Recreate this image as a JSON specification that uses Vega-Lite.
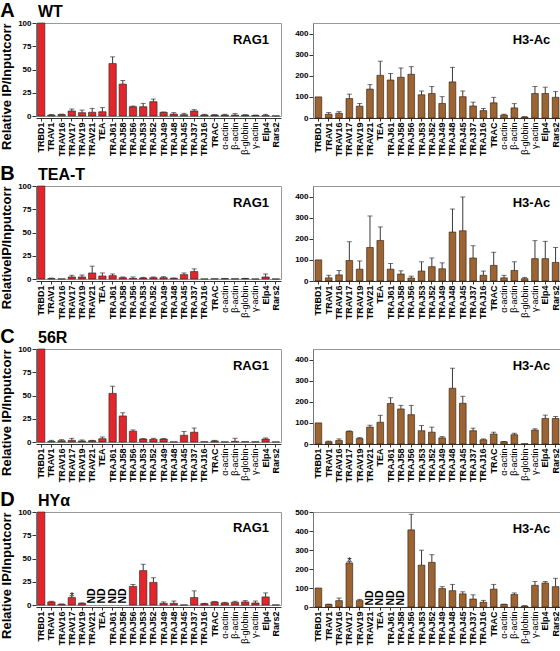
{
"$schema": "https://vega.github.io/schema/vega-lite/v6.json",
"padding": {"left": 0, "top": 0, "right": 0, "bottom": 0},
"spacing": 6,
"config": {
  "font": "Liberation Sans",
  "view": {"stroke": "#999", "strokeWidth": 1},
  "axis": {"grid": false, "labelColor": "black", "titleColor": "black", "labelFont": "Liberation Sans", "titleFont": "Liberation Sans", "labelOverlap": false},
  "axisY": {"tickCount": 10},
  "title": {"font": "Liberation Sans", "color": "black", "baseline": "alphabetic"}
},
"datasets": {
  "AR": [{"g":"TRBD1","v":100,"e":100},{"g":"TRAV1","v":1,"e":1.5},{"g":"TRAV16","v":1.5,"e":2},{"g":"TRAV17","v":5.4,"e":7.5},{"g":"TRAV19","v":3.6,"e":6.4},{"g":"TRAV21","v":4,"e":8.2},{"g":"TEA","v":4.6,"e":9},{"g":"TRAJ61","v":56.4,"e":63.6},{"g":"TRAJ58","v":34.3,"e":38.2},{"g":"TRAJ56","v":10,"e":10.7},{"g":"TRAJ53","v":10,"e":13.6},{"g":"TRAJ52","v":15.4,"e":18.2},{"g":"TRAJ49","v":3.9,"e":4.3},{"g":"TRAJ48","v":2.1,"e":3.6},{"g":"TRAJ45","v":1.4,"e":2.9},{"g":"TRAJ37","v":5.4,"e":6.8},{"g":"TRAJ16","v":1.1,"e":1.8},{"g":"TRAC","v":1.1,"e":1.4},{"g":"α-actin","v":1,"e":1.8},{"g":"β-actin","v":1,"e":2.5},{"g":"β-globin","v":1,"e":1.3},{"g":"γ-actin","v":0.7,"e":0.9},{"g":"Elp4","v":0.5,"e":1.8},{"g":"Rars2","v":0.2,"e":0.2}],
  "AH": [{"g":"TRBD1","v":100,"e":100},{"g":"TRAV1","v":18,"e":25.7},{"g":"TRAV16","v":22.6,"e":30},{"g":"TRAV17","v":92,"e":113},{"g":"TRAV19","v":56,"e":69},{"g":"TRAV21","v":137,"e":158},{"g":"TEA","v":202,"e":269},{"g":"TRAJ61","v":180,"e":211},{"g":"TRAJ58","v":193,"e":237},{"g":"TRAJ56","v":207,"e":243},{"g":"TRAJ53","v":110,"e":128},{"g":"TRAJ52","v":116,"e":149},{"g":"TRAJ49","v":69,"e":101},{"g":"TRAJ48","v":171,"e":240},{"g":"TRAJ45","v":101,"e":128},{"g":"TRAJ37","v":57,"e":75},{"g":"TRAJ16","v":35,"e":45},{"g":"TRAC","v":72,"e":98},{"g":"α-actin","v":14,"e":18},{"g":"β-actin","v":48,"e":68},{"g":"β-globin","v":4.5,"e":6},{"g":"γ-actin","v":116,"e":149},{"g":"Elp4","v":116,"e":146},{"g":"Rars2","v":98,"e":125}],
  "BR": [{"g":"TRBD1","v":100,"e":100},{"g":"TRAV1","v":0.4,"e":1},{"g":"TRAV16","v":0.2,"e":0.2},{"g":"TRAV17","v":2.2,"e":4},{"g":"TRAV19","v":2.2,"e":4.3},{"g":"TRAV21","v":6.5,"e":13.8},{"g":"TEA","v":3.3,"e":6.5},{"g":"TRAJ61","v":3.6,"e":5.4},{"g":"TRAJ58","v":1.4,"e":2.2},{"g":"TRAJ56","v":0.7,"e":2.2},{"g":"TRAJ53","v":1.1,"e":1.8},{"g":"TRAJ52","v":1.4,"e":2.2},{"g":"TRAJ49","v":1.4,"e":2.5},{"g":"TRAJ48","v":0.7,"e":1.1},{"g":"TRAJ45","v":4.7,"e":6.5},{"g":"TRAJ37","v":8,"e":10.9},{"g":"TRAJ16","v":0.1,"e":0.1},{"g":"TRAC","v":0.3,"e":0.3},{"g":"α-actin","v":0.4,"e":0.6},{"g":"β-actin","v":0.3,"e":0.3},{"g":"β-globin","v":0.5,"e":0.7},{"g":"γ-actin","v":0.1,"e":0.1},{"g":"Elp4","v":2.2,"e":5.4},{"g":"Rars2","v":0.1,"e":0.1}],
  "BH": [{"g":"TRBD1","v":100,"e":100},{"g":"TRAV1","v":15,"e":27},{"g":"TRAV16","v":29,"e":50},{"g":"TRAV17","v":97,"e":186},{"g":"TRAV19","v":56,"e":95},{"g":"TRAV21","v":159,"e":308},{"g":"TEA","v":192,"e":256},{"g":"TRAJ61","v":56,"e":83},{"g":"TRAJ58","v":33,"e":48},{"g":"TRAJ56","v":14,"e":23},{"g":"TRAJ53","v":47,"e":91},{"g":"TRAJ52","v":68,"e":109},{"g":"TRAJ49","v":58,"e":86},{"g":"TRAJ48","v":232,"e":341},{"g":"TRAJ45","v":238,"e":398},{"g":"TRAJ37","v":109,"e":167},{"g":"TRAJ16","v":27,"e":47},{"g":"TRAC","v":74,"e":136},{"g":"α-actin","v":15,"e":27},{"g":"β-actin","v":50,"e":91},{"g":"β-globin","v":11,"e":17},{"g":"γ-actin","v":106,"e":191},{"g":"Elp4","v":106,"e":188},{"g":"Rars2","v":88,"e":159}],
  "CR": [{"g":"TRBD1","v":100,"e":100},{"g":"TRAV1","v":0.7,"e":1.8},{"g":"TRAV16","v":1.4,"e":2.5},{"g":"TRAV17","v":1.8,"e":4},{"g":"TRAV19","v":1.1,"e":2.2},{"g":"TRAV21","v":1.4,"e":1.8},{"g":"TEA","v":3.6,"e":5.4},{"g":"TRAJ61","v":52.3,"e":60},{"g":"TRAJ58","v":28,"e":31.4},{"g":"TRAJ56","v":11.6,"e":13},{"g":"TRAJ53","v":3.2,"e":3.6},{"g":"TRAJ52","v":2.9,"e":4},{"g":"TRAJ49","v":3.2,"e":3.6},{"g":"TRAJ48","v":0.2,"e":0.2},{"g":"TRAJ45","v":7.2,"e":11.2},{"g":"TRAJ37","v":10.5,"e":15},{"g":"TRAJ16","v":0.3,"e":0.3},{"g":"TRAC","v":1.1,"e":1.8},{"g":"α-actin","v":0.2,"e":0.2},{"g":"β-actin","v":0.7,"e":4},{"g":"β-globin","v":0.4,"e":0.4},{"g":"γ-actin","v":0.3,"e":0.3},{"g":"Elp4","v":3.2,"e":4.3},{"g":"Rars2","v":0.1,"e":0.1}],
  "CH": [{"g":"TRBD1","v":100,"e":100},{"g":"TRAV1","v":10.6,"e":13.6},{"g":"TRAV16","v":16.6,"e":24},{"g":"TRAV17","v":59,"e":62},{"g":"TRAV19","v":25.7,"e":30},{"g":"TRAV21","v":80,"e":89},{"g":"TEA","v":103,"e":136},{"g":"TRAJ61","v":192,"e":219},{"g":"TRAJ58","v":166,"e":183},{"g":"TRAJ56","v":139,"e":183},{"g":"TRAJ53","v":63,"e":88},{"g":"TRAJ52","v":56,"e":80},{"g":"TRAJ49","v":29,"e":35},{"g":"TRAJ48","v":264,"e":359},{"g":"TRAJ45","v":193,"e":226},{"g":"TRAJ37","v":63,"e":75},{"g":"TRAJ16","v":20,"e":24},{"g":"TRAC","v":47,"e":56},{"g":"α-actin","v":10.6,"e":12},{"g":"β-actin","v":44,"e":51},{"g":"β-globin","v":1.5,"e":1.5},{"g":"γ-actin","v":66,"e":72},{"g":"Elp4","v":121,"e":137},{"g":"Rars2","v":121,"e":130}],
  "DR": [{"g":"TRBD1","v":100,"e":100},{"g":"TRAV1","v":3.3,"e":4},{"g":"TRAV16","v":0.7,"e":1.1},{"g":"TRAV17","v":8,"e":9.8,"s":"*"},{"g":"TRAV19","v":1.8,"e":2.2},{"g":"TRAV21","nd":"ND"},{"g":"TEA","nd":"ND"},{"g":"TRAJ61","nd":"ND"},{"g":"TRAJ58","nd":"ND"},{"g":"TRAJ56","v":20,"e":22},{"g":"TRAJ53","v":37,"e":43.8},{"g":"TRAJ52","v":24.3,"e":29.3},{"g":"TRAJ49","v":1.8,"e":3.3},{"g":"TRAJ48","v":1.8,"e":4.3},{"g":"TRAJ45","v":0.1,"e":0.1},{"g":"TRAJ37","v":8,"e":15.2},{"g":"TRAJ16","v":1.4,"e":1.8},{"g":"TRAC","v":3.3,"e":3.6},{"g":"α-actin","v":2.2,"e":2.9},{"g":"β-actin","v":2.9,"e":4},{"g":"β-globin","v":3.3,"e":4.7},{"g":"γ-actin","v":2.2,"e":4.3},{"g":"Elp4","v":8.7,"e":13},{"g":"Rars2","v":0.1,"e":0.1}],
  "DH": [{"g":"TRBD1","v":100,"e":100},{"g":"TRAV1","v":13.4,"e":15},{"g":"TRAV16","v":33.6,"e":47},{"g":"TRAV17","v":232,"e":240,"s":"*"},{"g":"TRAV19","v":33.6,"e":40},{"g":"TRAV21","nd":"ND"},{"g":"TEA","nd":"ND"},{"g":"TRAJ61","nd":"ND"},{"g":"TRAJ58","nd":"ND"},{"g":"TRAJ56","v":406,"e":488},{"g":"TRAJ53","v":220,"e":299},{"g":"TRAJ52","v":235,"e":275},{"g":"TRAJ49","v":97,"e":107},{"g":"TRAJ48","v":86,"e":119},{"g":"TRAJ45","v":69,"e":80},{"g":"TRAJ37","v":42,"e":64},{"g":"TRAJ16","v":25,"e":35},{"g":"TRAC","v":94,"e":119},{"g":"α-actin","v":13.4,"e":15},{"g":"β-actin","v":65.5,"e":74},{"g":"β-globin","v":5,"e":6.7},{"g":"γ-actin","v":114,"e":134},{"g":"Elp4","v":126,"e":134},{"g":"Rars2","v":107,"e":151}]
},
"vconcat": [
{"title": {"text": "A", "anchor": "start", "frame": "bounds", "fontSize": 20, "fontWeight": "bold", "offset": -17},
 "spacing": 12,
 "hconcat": [
  {"width": 245, "height": 93,
   "title": {"text": "WT", "anchor": "start", "frame": "group", "fontSize": 16, "fontWeight": "bold", "offset": -1, "dx": 2},
   "data": {"name": "AR"},
   "encoding": {"x": {"field": "g", "type": "nominal", "scale": {"domain": ["TRBD1","TRAV1","TRAV16","TRAV17","TRAV19","TRAV21","TEA","TRAJ61","TRAJ58","TRAJ56","TRAJ53","TRAJ52","TRAJ49","TRAJ48","TRAJ45","TRAJ37","TRAJ16","TRAC","α-actin","β-actin","β-globin","γ-actin","Elp4","Rars2"], "paddingInner": 0.28, "paddingOuter": 0.15},
     "axis": {"title": null, "labelAngle": -90, "labelFontSize": 9, "labelFontWeight": {"condition": {"test": "indexof(datum.value,'actin')>=0 || indexof(datum.value,'globin')>=0", "value": "normal"}, "value": "bold"}, "tickSize": 3, "tickColor": "#333", "domainColor": "#333", "labelPadding": 1, "offset": 2}}},
   "layer": [
    {"mark": {"type": "bar", "color": "#e3262b", "stroke": "#222", "strokeWidth": 0.6},
     "encoding": {"y": {"field": "v", "type": "quantitative", "scale": {"domain": [0, 100], "nice": false},
       "axis": {"values": [0,25,50,75,100], "tickCount": 10, "labelOverlap": false, "title": "Relative IP/Inputcorr", "titleAnchor": "end", "titleFontSize": 13, "titleFontWeight": "bold", "titlePadding": 4, "labelFontSize": 8, "labelFontWeight": "bold", "labelPadding": 1, "tickSize": 4, "tickColor": "#333", "domainColor": "#777"}}}},
    {"transform": [{"filter": "datum.e > datum.v"}], "mark": {"type": "rule", "color": "#222", "strokeWidth": 0.9},
     "encoding": {"y": {"field": "v", "type": "quantitative"}, "y2": {"field": "e"}}},
    {"transform": [{"filter": "datum.e > datum.v"}], "mark": {"type": "tick", "color": "#222", "thickness": 0.9, "size": 5},
     "encoding": {"y": {"field": "e", "type": "quantitative"}}},
    {"data": {"values": [{"lab": "RAG1"}]}, "mark": {"type": "text", "align": "right", "baseline": "alphabetic", "fontSize": 13, "fontWeight": "bold", "dx": 3.5},
     "encoding": {"x": {"datum": "Elp4"}, "y": {"datum": 77.5}, "text": {"field": "lab"}}}
   ]},
  {"width": 248, "height": 95,
   "data": {"name": "AH"},
   "encoding": {"x": {"field": "g", "type": "nominal", "scale": {"domain": ["TRBD1","TRAV1","TRAV16","TRAV17","TRAV19","TRAV21","TEA","TRAJ61","TRAJ58","TRAJ56","TRAJ53","TRAJ52","TRAJ49","TRAJ48","TRAJ45","TRAJ37","TRAJ16","TRAC","α-actin","β-actin","β-globin","γ-actin","Elp4","Rars2"], "paddingInner": 0.35, "paddingOuter": 0.2},
     "axis": {"title": null, "labelAngle": -90, "labelFontSize": 9, "labelFontWeight": {"condition": {"test": "indexof(datum.value,'actin')>=0 || indexof(datum.value,'globin')>=0", "value": "normal"}, "value": "bold"}, "tickSize": 3, "tickColor": "#333", "domainColor": "#333", "labelPadding": 1}}},
   "layer": [
    {"mark": {"type": "bar", "color": "#9b6432", "stroke": "#2a1a0c", "strokeWidth": 0.6},
     "encoding": {"y": {"field": "v", "type": "quantitative", "scale": {"domain": [0, 450], "nice": false},
       "axis": {"values": [0,100,200,300,400], "tickCount": 10, "labelOverlap": false, "title": null, "labelFontSize": 8, "labelFontWeight": "bold", "labelPadding": 1, "tickSize": 4, "tickColor": "#333", "domainColor": "#777"}}}},
    {"transform": [{"filter": "datum.e > datum.v"}], "mark": {"type": "rule", "color": "#222", "strokeWidth": 0.9},
     "encoding": {"y": {"field": "v", "type": "quantitative"}, "y2": {"field": "e"}}},
    {"transform": [{"filter": "datum.e > datum.v"}], "mark": {"type": "tick", "color": "#222", "thickness": 0.9, "size": 5},
     "encoding": {"y": {"field": "e", "type": "quantitative"}}},
    {"data": {"values": [{"lab": "H3-Ac"}]}, "mark": {"type": "text", "align": "right", "baseline": "alphabetic", "fontSize": 13, "fontWeight": "bold", "dx": 5},
     "encoding": {"x": {"datum": "Elp4"}, "y": {"datum": 352}, "text": {"field": "lab"}}}
   ]}
 ]},
{"title": {"text": "B", "anchor": "start", "frame": "bounds", "fontSize": 20, "fontWeight": "bold", "offset": -17},
 "spacing": 12,
 "hconcat": [
  {"width": 245, "height": 93,
   "title": {"text": "TEA-T", "anchor": "start", "frame": "group", "fontSize": 16, "fontWeight": "bold", "offset": -1, "dx": 2},
   "data": {"name": "BR"},
   "encoding": {"x": {"field": "g", "type": "nominal", "scale": {"domain": ["TRBD1","TRAV1","TRAV16","TRAV17","TRAV19","TRAV21","TEA","TRAJ61","TRAJ58","TRAJ56","TRAJ53","TRAJ52","TRAJ49","TRAJ48","TRAJ45","TRAJ37","TRAJ16","TRAC","α-actin","β-actin","β-globin","γ-actin","Elp4","Rars2"], "paddingInner": 0.28, "paddingOuter": 0.15},
     "axis": {"title": null, "labelAngle": -90, "labelFontSize": 9, "labelFontWeight": {"condition": {"test": "indexof(datum.value,'actin')>=0 || indexof(datum.value,'globin')>=0", "value": "normal"}, "value": "bold"}, "tickSize": 3, "tickColor": "#333", "domainColor": "#333", "labelPadding": 1, "offset": 2}}},
   "layer": [
    {"mark": {"type": "bar", "color": "#e3262b", "stroke": "#222", "strokeWidth": 0.6},
     "encoding": {"y": {"field": "v", "type": "quantitative", "scale": {"domain": [0, 100], "nice": false},
       "axis": {"values": [0,25,50,75,100], "tickCount": 10, "labelOverlap": false, "title": "RelativeIP/Inputcorr", "titleAnchor": "end", "titleFontSize": 13, "titleFontWeight": "bold", "titlePadding": 4, "labelFontSize": 8, "labelFontWeight": "bold", "labelPadding": 1, "tickSize": 4, "tickColor": "#333", "domainColor": "#777"}}}},
    {"transform": [{"filter": "datum.e > datum.v"}], "mark": {"type": "rule", "color": "#222", "strokeWidth": 0.9},
     "encoding": {"y": {"field": "v", "type": "quantitative"}, "y2": {"field": "e"}}},
    {"transform": [{"filter": "datum.e > datum.v"}], "mark": {"type": "tick", "color": "#222", "thickness": 0.9, "size": 5},
     "encoding": {"y": {"field": "e", "type": "quantitative"}}},
    {"data": {"values": [{"lab": "RAG1"}]}, "mark": {"type": "text", "align": "right", "baseline": "alphabetic", "fontSize": 13, "fontWeight": "bold", "dx": 3.5},
     "encoding": {"x": {"datum": "Elp4"}, "y": {"datum": 77}, "text": {"field": "lab"}}}
   ]},
  {"width": 248, "height": 95,
   "data": {"name": "BH"},
   "encoding": {"x": {"field": "g", "type": "nominal", "scale": {"domain": ["TRBD1","TRAV1","TRAV16","TRAV17","TRAV19","TRAV21","TEA","TRAJ61","TRAJ58","TRAJ56","TRAJ53","TRAJ52","TRAJ49","TRAJ48","TRAJ45","TRAJ37","TRAJ16","TRAC","α-actin","β-actin","β-globin","γ-actin","Elp4","Rars2"], "paddingInner": 0.35, "paddingOuter": 0.2},
     "axis": {"title": null, "labelAngle": -90, "labelFontSize": 9, "labelFontWeight": {"condition": {"test": "indexof(datum.value,'actin')>=0 || indexof(datum.value,'globin')>=0", "value": "normal"}, "value": "bold"}, "tickSize": 3, "tickColor": "#333", "domainColor": "#333", "labelPadding": 1}}},
   "layer": [
    {"mark": {"type": "bar", "color": "#9b6432", "stroke": "#2a1a0c", "strokeWidth": 0.6},
     "encoding": {"y": {"field": "v", "type": "quantitative", "scale": {"domain": [0, 450], "nice": false},
       "axis": {"values": [0,100,200,300,400], "tickCount": 10, "labelOverlap": false, "title": null, "labelFontSize": 8, "labelFontWeight": "bold", "labelPadding": 1, "tickSize": 4, "tickColor": "#333", "domainColor": "#777"}}}},
    {"transform": [{"filter": "datum.e > datum.v"}], "mark": {"type": "rule", "color": "#222", "strokeWidth": 0.9},
     "encoding": {"y": {"field": "v", "type": "quantitative"}, "y2": {"field": "e"}}},
    {"transform": [{"filter": "datum.e > datum.v"}], "mark": {"type": "tick", "color": "#222", "thickness": 0.9, "size": 5},
     "encoding": {"y": {"field": "e", "type": "quantitative"}}},
    {"data": {"values": [{"lab": "H3-Ac"}]}, "mark": {"type": "text", "align": "right", "baseline": "alphabetic", "fontSize": 13, "fontWeight": "bold", "dx": 5},
     "encoding": {"x": {"datum": "Elp4"}, "y": {"datum": 349}, "text": {"field": "lab"}}}
   ]}
 ]},
{"title": {"text": "C", "anchor": "start", "frame": "bounds", "fontSize": 20, "fontWeight": "bold", "offset": -17},
 "spacing": 12,
 "hconcat": [
  {"width": 245, "height": 93,
   "title": {"text": "56R", "anchor": "start", "frame": "group", "fontSize": 16, "fontWeight": "bold", "offset": -1, "dx": 2},
   "data": {"name": "CR"},
   "encoding": {"x": {"field": "g", "type": "nominal", "scale": {"domain": ["TRBD1","TRAV1","TRAV16","TRAV17","TRAV19","TRAV21","TEA","TRAJ61","TRAJ58","TRAJ56","TRAJ53","TRAJ52","TRAJ49","TRAJ48","TRAJ45","TRAJ37","TRAJ16","TRAC","α-actin","β-actin","β-globin","γ-actin","Elp4","Rars2"], "paddingInner": 0.28, "paddingOuter": 0.15},
     "axis": {"title": null, "labelAngle": -90, "labelFontSize": 9, "labelFontWeight": {"condition": {"test": "indexof(datum.value,'actin')>=0 || indexof(datum.value,'globin')>=0", "value": "normal"}, "value": "bold"}, "tickSize": 3, "tickColor": "#333", "domainColor": "#333", "labelPadding": 1, "offset": 2}}},
   "layer": [
    {"mark": {"type": "bar", "color": "#e3262b", "stroke": "#222", "strokeWidth": 0.6},
     "encoding": {"y": {"field": "v", "type": "quantitative", "scale": {"domain": [0, 100], "nice": false},
       "axis": {"values": [0,25,50,75,100], "tickCount": 10, "labelOverlap": false, "title": "Relative IP/Inputcorr", "titleAnchor": "end", "titleFontSize": 13, "titleFontWeight": "bold", "titlePadding": 4, "labelFontSize": 8, "labelFontWeight": "bold", "labelPadding": 1, "tickSize": 4, "tickColor": "#333", "domainColor": "#777"}}}},
    {"transform": [{"filter": "datum.e > datum.v"}], "mark": {"type": "rule", "color": "#222", "strokeWidth": 0.9},
     "encoding": {"y": {"field": "v", "type": "quantitative"}, "y2": {"field": "e"}}},
    {"transform": [{"filter": "datum.e > datum.v"}], "mark": {"type": "tick", "color": "#222", "thickness": 0.9, "size": 5},
     "encoding": {"y": {"field": "e", "type": "quantitative"}}},
    {"data": {"values": [{"lab": "RAG1"}]}, "mark": {"type": "text", "align": "right", "baseline": "alphabetic", "fontSize": 13, "fontWeight": "bold", "dx": 3.5},
     "encoding": {"x": {"datum": "Elp4"}, "y": {"datum": 77}, "text": {"field": "lab"}}}
   ]},
  {"width": 248, "height": 95,
   "data": {"name": "CH"},
   "encoding": {"x": {"field": "g", "type": "nominal", "scale": {"domain": ["TRBD1","TRAV1","TRAV16","TRAV17","TRAV19","TRAV21","TEA","TRAJ61","TRAJ58","TRAJ56","TRAJ53","TRAJ52","TRAJ49","TRAJ48","TRAJ45","TRAJ37","TRAJ16","TRAC","α-actin","β-actin","β-globin","γ-actin","Elp4","Rars2"], "paddingInner": 0.35, "paddingOuter": 0.2},
     "axis": {"title": null, "labelAngle": -90, "labelFontSize": 9, "labelFontWeight": {"condition": {"test": "indexof(datum.value,'actin')>=0 || indexof(datum.value,'globin')>=0", "value": "normal"}, "value": "bold"}, "tickSize": 3, "tickColor": "#333", "domainColor": "#333", "labelPadding": 1}}},
   "layer": [
    {"mark": {"type": "bar", "color": "#9b6432", "stroke": "#2a1a0c", "strokeWidth": 0.6},
     "encoding": {"y": {"field": "v", "type": "quantitative", "scale": {"domain": [0, 450], "nice": false},
       "axis": {"values": [0,100,200,300,400], "tickCount": 10, "labelOverlap": false, "title": null, "labelFontSize": 8, "labelFontWeight": "bold", "labelPadding": 1, "tickSize": 4, "tickColor": "#333", "domainColor": "#777"}}}},
    {"transform": [{"filter": "datum.e > datum.v"}], "mark": {"type": "rule", "color": "#222", "strokeWidth": 0.9},
     "encoding": {"y": {"field": "v", "type": "quantitative"}, "y2": {"field": "e"}}},
    {"transform": [{"filter": "datum.e > datum.v"}], "mark": {"type": "tick", "color": "#222", "thickness": 0.9, "size": 5},
     "encoding": {"y": {"field": "e", "type": "quantitative"}}},
    {"data": {"values": [{"lab": "H3-Ac"}]}, "mark": {"type": "text", "align": "right", "baseline": "alphabetic", "fontSize": 13, "fontWeight": "bold", "dx": 5},
     "encoding": {"x": {"datum": "Elp4"}, "y": {"datum": 352}, "text": {"field": "lab"}}}
   ]}
 ]},
{"title": {"text": "D", "anchor": "start", "frame": "bounds", "fontSize": 20, "fontWeight": "bold", "offset": -17},
 "spacing": 12,
 "hconcat": [
  {"width": 245, "height": 93,
   "title": {"text": "HYα", "anchor": "start", "frame": "group", "fontSize": 16, "fontWeight": "bold", "offset": -1, "dx": 2},
   "data": {"name": "DR"},
   "encoding": {"x": {"field": "g", "type": "nominal", "scale": {"domain": ["TRBD1","TRAV1","TRAV16","TRAV17","TRAV19","TRAV21","TEA","TRAJ61","TRAJ58","TRAJ56","TRAJ53","TRAJ52","TRAJ49","TRAJ48","TRAJ45","TRAJ37","TRAJ16","TRAC","α-actin","β-actin","β-globin","γ-actin","Elp4","Rars2"], "paddingInner": 0.28, "paddingOuter": 0.15},
     "axis": {"title": null, "labelAngle": -90, "labelFontSize": 9, "labelFontWeight": {"condition": {"test": "indexof(datum.value,'actin')>=0 || indexof(datum.value,'globin')>=0", "value": "normal"}, "value": "bold"}, "tickSize": 3, "tickColor": "#333", "domainColor": "#333", "labelPadding": 1, "offset": 2}}},
   "layer": [
    {"mark": {"type": "bar", "color": "#e3262b", "stroke": "#222", "strokeWidth": 0.6},
     "encoding": {"y": {"field": "v", "type": "quantitative", "scale": {"domain": [0, 100], "nice": false},
       "axis": {"values": [0,25,50,75,100], "tickCount": 10, "labelOverlap": false, "title": "Relative IP/Inputcorr", "titleAnchor": "end", "titleFontSize": 13, "titleFontWeight": "bold", "titlePadding": 4, "labelFontSize": 8, "labelFontWeight": "bold", "labelPadding": 1, "tickSize": 4, "tickColor": "#333", "domainColor": "#777"}}}},
    {"transform": [{"filter": "datum.e > datum.v"}], "mark": {"type": "rule", "color": "#222", "strokeWidth": 0.9},
     "encoding": {"y": {"field": "v", "type": "quantitative"}, "y2": {"field": "e"}}},
    {"transform": [{"filter": "datum.e > datum.v"}], "mark": {"type": "tick", "color": "#222", "thickness": 0.9, "size": 5},
     "encoding": {"y": {"field": "e", "type": "quantitative"}}},
    {"transform": [{"filter": "datum.nd"}], "mark": {"type": "text", "angle": 270, "align": "left", "baseline": "middle", "fontSize": 10.5, "fontWeight": "bold", "dx": 1.5},
     "encoding": {"y": {"datum": 0}, "text": {"field": "nd"}}},
    {"transform": [{"filter": "datum.s"}], "mark": {"type": "text", "align": "center", "baseline": "alphabetic", "fontSize": 11, "dy": 4},
     "encoding": {"y": {"field": "e", "type": "quantitative"}, "text": {"field": "s"}}},
    {"data": {"values": [{"lab": "RAG1"}]}, "mark": {"type": "text", "align": "right", "baseline": "alphabetic", "fontSize": 13, "fontWeight": "bold", "dx": 3.5},
     "encoding": {"x": {"datum": "Elp4"}, "y": {"datum": 78}, "text": {"field": "lab"}}}
   ]},
  {"width": 248, "height": 95,
   "data": {"name": "DH"},
   "encoding": {"x": {"field": "g", "type": "nominal", "scale": {"domain": ["TRBD1","TRAV1","TRAV16","TRAV17","TRAV19","TRAV21","TEA","TRAJ61","TRAJ58","TRAJ56","TRAJ53","TRAJ52","TRAJ49","TRAJ48","TRAJ45","TRAJ37","TRAJ16","TRAC","α-actin","β-actin","β-globin","γ-actin","Elp4","Rars2"], "paddingInner": 0.35, "paddingOuter": 0.2},
     "axis": {"title": null, "labelAngle": -90, "labelFontSize": 9, "labelFontWeight": {"condition": {"test": "indexof(datum.value,'actin')>=0 || indexof(datum.value,'globin')>=0", "value": "normal"}, "value": "bold"}, "tickSize": 3, "tickColor": "#333", "domainColor": "#333", "labelPadding": 1}}},
   "layer": [
    {"mark": {"type": "bar", "color": "#9b6432", "stroke": "#2a1a0c", "strokeWidth": 0.6},
     "encoding": {"y": {"field": "v", "type": "quantitative", "scale": {"domain": [0, 500], "nice": false},
       "axis": {"values": [0,100,200,300,400,500], "tickCount": 10, "labelOverlap": false, "title": null, "labelFontSize": 8, "labelFontWeight": "bold", "labelPadding": 1, "tickSize": 4, "tickColor": "#333", "domainColor": "#777"}}}},
    {"transform": [{"filter": "datum.e > datum.v"}], "mark": {"type": "rule", "color": "#222", "strokeWidth": 0.9},
     "encoding": {"y": {"field": "v", "type": "quantitative"}, "y2": {"field": "e"}}},
    {"transform": [{"filter": "datum.e > datum.v"}], "mark": {"type": "tick", "color": "#222", "thickness": 0.9, "size": 5},
     "encoding": {"y": {"field": "e", "type": "quantitative"}}},
    {"transform": [{"filter": "datum.nd"}], "mark": {"type": "text", "angle": 270, "align": "left", "baseline": "middle", "fontSize": 10.5, "fontWeight": "bold", "dx": 1.5},
     "encoding": {"y": {"datum": 0}, "text": {"field": "nd"}}},
    {"transform": [{"filter": "datum.s"}], "mark": {"type": "text", "align": "center", "baseline": "alphabetic", "fontSize": 11, "dy": 4},
     "encoding": {"y": {"field": "e", "type": "quantitative"}, "text": {"field": "s"}}},
    {"data": {"values": [{"lab": "H3-Ac"}]}, "mark": {"type": "text", "align": "right", "baseline": "alphabetic", "fontSize": 13, "fontWeight": "bold", "dx": 5},
     "encoding": {"x": {"datum": "Elp4"}, "y": {"datum": 392}, "text": {"field": "lab"}}}
   ]}
 ]}
]
}
